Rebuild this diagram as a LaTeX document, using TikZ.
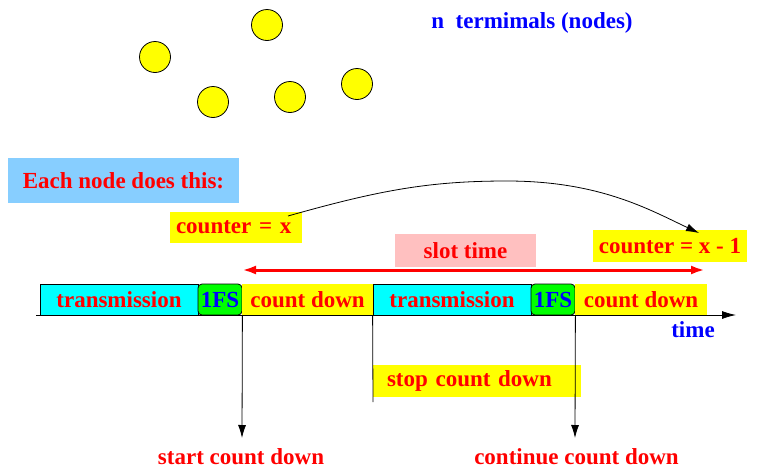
\documentclass[tikz,border=0pt]{standalone}
\usepackage{fontspec}
\setmainfont{Liberation Serif}
\usetikzlibrary{arrows.meta}
\definecolor{myyellow}{RGB}{255,255,0}
\definecolor{mycyan}{RGB}{0,255,255}
\definecolor{mygreen}{RGB}{0,255,0}
\definecolor{mypink}{RGB}{255,192,192}
\definecolor{myltblue}{RGB}{135,206,255}
\definecolor{myred}{RGB}{255,0,0}
\definecolor{myblue}{RGB}{0,0,255}
\tikzset{
  txt/.style={font=\bfseries\fontsize{23}{26}\selectfont, inner sep=0pt},
  redtxt/.style={txt, text=myred},
  bluetxt/.style={txt, text=myblue},
  term/.style={circle, draw=black, line width=0.8pt, fill=myyellow, minimum size=31pt, inner sep=0pt},
  boxbase/.style={redtxt, minimum height=31pt},
  transbox/.style={boxbase, draw=black, line width=0.8pt, fill=mycyan, minimum width=158pt},
  fsbox/.style={txt, text=myblue, draw=black, line width=0.8pt, fill=mygreen, rounded corners=4pt, minimum width=44pt, minimum height=31pt},
  cdbox/.style={boxbase, fill=myyellow},
  conn/.style={black, line width=0.8pt},
  blacktip/.style={-{Latex[length=13pt,width=8pt]}},
}
\begin{document}
\begin{tikzpicture}[x=1pt,y=-1pt]
\useasboundingbox (0,0) rectangle (758,474);
% terminals
\node[term] (n1) at (267,25) {};
\node[term] (n2) at (155,57) {};
\node[term] (n3) at (213,102) {};
\node[term] (n4) at (290,97) {};
\node[term] (n5) at (357,84) {};
\node[bluetxt] (title) at (532,23) {n~~termimals (nodes)};
% each node
\node[redtxt, fill=myltblue, minimum width=231pt, minimum height=45pt] (each) at (123.5,180.5) {Each node does this:};
% counters
\node[redtxt, fill=myyellow, minimum width=132pt, minimum height=31pt, text width=132pt, align=left] (cx) at (236,227.5) {\hspace*{6pt}counter = x};
\node[redtxt, fill=myyellow, minimum width=154pt, minimum height=32pt] (cx1) at (670,246) {counter = x - 1};
\node[redtxt, fill=mypink, minimum width=141pt, minimum height=33pt] (slot) at (465.5,250.5) {slot time};
\coordinate (cs) at (288,216);
\coordinate (ce) at (699,233);
\coordinate (cm) at (507,181);
\draw[conn, blacktip] (cs) .. controls (380,190) and (430,181) .. (cm) .. controls (600,181) and (650,210) .. (ce);
% slot arrow
\coordinate (sl) at (242,270);
\coordinate (sr) at (705,270);
\draw[myred, line width=3pt, {Latex[length=14pt,width=9pt]}-{Latex[length=14pt,width=9pt]}] (sl) -- (sr);
% timeline boxes
\node[transbox] (tr1) at (119,299.5) {transmission};
\node[fsbox] (fs1) at (220,299.5) {1FS};
\node[cdbox, minimum width=131pt] (cd1) at (307.5,299.5) {count down};
\node[transbox] (tr2) at (452,299.5) {transmission};
\node[fsbox] (fs2) at (553,299.5) {1FS};
\node[cdbox, minimum width=132pt] (cd2) at (641,299.5) {count down};
\coordinate (t0) at (36,315);
\coordinate (t1) at (736,315);
\draw[conn, -{Latex[length=14pt,width=8pt]}] (t0) -- (t1);
\node[bluetxt] (time) at (693,330) {time};
% stop count down
\node[redtxt, fill=myyellow, minimum height=32pt, text width=180pt, inner xsep=14pt, align=left] (stop) at (477,381) {stop count down};
\coordinate (se) at (373,402);
\draw[conn] (tr2.south west) -- (se);
% vertical arrows
\coordinate (a1) at (242,438);
\coordinate (a2) at (575,438);
\draw[conn, blacktip] (fs1.south east) -- (a1);
\draw[conn, blacktip] (fs2.south east) -- (a2);
\node[redtxt] (start) at (241,457) {start count down};
\node[redtxt] (cont) at (576.5,457) {continue count down};
\end{tikzpicture}
\end{document}
